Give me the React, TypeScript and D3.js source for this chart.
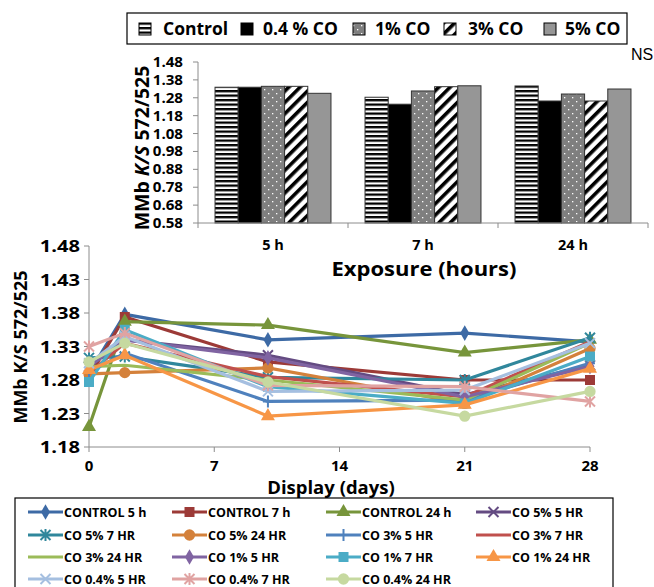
import React from 'react';
import * as d3 from 'd3';

// top chart: bar values per exposure time
const barCategories = ['5 h', '7 h', '24 h'];
const barSeriesNames = ['Control', '0.4 % CO', '1% CO', '3% CO', '5% CO'];
const barControl = [1.339, 1.283, 1.346];
const barCO04 = [1.339, 1.244, 1.262];
const barCO1 = [1.344, 1.318, 1.301];
const barCO3 = [1.344, 1.342, 1.262];
const barCO5 = [1.305, 1.347, 1.329];
const barTicks = [0.58, 0.68, 0.78, 0.88, 0.98, 1.08, 1.18, 1.28, 1.38, 1.48];

// bottom chart: display days
const days = [0, 2, 10, 21, 28];
const dayTicks = [0, 7, 14, 21, 28];
const lineTicks = [1.18, 1.23, 1.28, 1.33, 1.38, 1.43, 1.48];
const lineNames = [
  'CONTROL 5 h', 'CONTROL 7 h', 'CONTROL 24 h', 'CO 5% 5 HR',
  'CO 5% 7 HR', 'CO 5% 24 HR', 'CO 3% 5 HR', 'CO 3% 7 HR',
  'CO 3% 24 HR', 'CO 1% 5 HR', 'CO 1%  7 HR', 'CO 1% 24 HR',
  'CO 0.4% 5 HR', 'CO 0.4% 7 HR', 'CO 0.4% 24 HR',
];
const control5h = [1.29, 1.378, 1.34, 1.35, 1.337];
const control7h = [1.285, 1.374, 1.307, 1.28, 1.28];
const control24h = [1.21, 1.367, 1.362, 1.321, 1.34];
const co5_5h = [1.3, 1.34, 1.317, 1.258, 1.302];
const co5_7h = [1.313, 1.315, 1.284, 1.28, 1.343];
const co5_24h = [1.289, 1.291, 1.298, 1.245, 1.327];
const co3_5h = [1.292, 1.32, 1.248, 1.25, 1.305];
const co3_7h = [1.29, 1.335, 1.285, 1.255, 1.337];
const co3_24h = [1.3, 1.302, 1.28, 1.25, 1.335];
const co1_5h = [1.3, 1.34, 1.313, 1.255, 1.3];
const co1_7h = [1.277, 1.355, 1.27, 1.245, 1.315];
const co1_24h = [1.295, 1.317, 1.226, 1.243, 1.297];
const co04_5h = [1.305, 1.345, 1.263, 1.265, 1.335];
const co04_7h = [1.33, 1.35, 1.272, 1.27, 1.248];
const co04_24h = [1.307, 1.335, 1.277, 1.226, 1.263];

const lineValues = [control5h, control7h, control24h, co5_5h, co5_7h, co5_24h,
  co3_5h, co3_7h, co3_24h, co1_5h, co1_7h, co1_24h, co04_5h, co04_7h, co04_24h];
const lineColors = ['#3d6aa5', '#9c3a37', '#77953b', '#644b82', '#30879c', '#d4813b',
  '#4f81bd', '#c0504d', '#9bbb59', '#8064a2', '#4bacc6', '#f79646',
  '#a5bfe0', '#e0a3a2', '#c6d9a0'];
const lineMarkers = ['diamond', 'square', 'triangle', 'x', 'star', 'circle',
  'plus', 'none', 'none', 'diamond', 'square', 'triangle', 'x', 'star', 'circle'];

const font = '"Open Sans", Lato, sans-serif';
const axisGray = '#8c8c8c';

function Marker({ type, x, y, color }: { type: string; x: number; y: number; color: string }) {
  const t = `translate(${x},${y})`;
  if (type === 'none') return null;
  if (type === 'x') return <path transform={t} d="M-5,-5L5,5M-5,5L5,-5" stroke={color} strokeWidth={2} />;
  if (type === 'star') return <path transform={t} d="M-5,-5L5,5M-5,5L5,-5M0,-6L0,6" stroke={color} strokeWidth={2} />;
  if (type === 'plus') return <path transform={t} d="M-5,0L5,0M0,-6L0,6" stroke={color} strokeWidth={2} />;
  const sym = type === 'diamond' ? d3.symbolDiamond : type === 'square' ? d3.symbolSquare
    : type === 'triangle' ? d3.symbolTriangle : d3.symbolCircle;
  const size = type === 'diamond' ? 70 : type === 'square' ? 100 : type === 'triangle' ? 85 : 100;
  return <path transform={t} d={d3.symbol(sym, size)() || ''} fill={color} />;
}

export default function App() {
  // bar chart scales
  const bx = d3.scaleBand<string>().domain(barCategories).range([198, 648])
    .paddingInner(0.227).paddingOuter(0.1135);
  const bInner = d3.scaleBand<string>().domain(barSeriesNames).range([0, bx.bandwidth()]);
  const by = d3.scaleLinear().domain([0.58, 1.48]).range([223, 62]);
  const barValues = [barControl, barCO04, barCO1, barCO3, barCO5];
  const barFills = ['url(#hstripe)', '#000', 'url(#dots)', 'url(#diag)', '#969696'];

  // line chart scales
  const lx = d3.scaleLinear().domain([0, 28]).range([89, 590]);
  const ly = d3.scaleLinear().domain([1.18, 1.48]).range([447, 246]);
  const line = d3.line<number>().x((_, i) => lx(days[i])).y(d => ly(d));

  const legendXs = [28, 172, 326, 476];
  const legendYs = [512, 535, 557, 579];

  return (
    <svg width={654} height={587} style={{ position: 'absolute', left: 0, top: 0, background: '#fff' }}
      fontFamily={font}>
      <defs>
        <pattern id="hstripe" width={6} height={4.5} patternUnits="userSpaceOnUse">
          <rect width={6} height={4.5} fill="#fff" />
          <rect width={6} height={2.3} fill="#000" />
        </pattern>
        <pattern id="dots" width={8} height={8} patternUnits="userSpaceOnUse">
          <rect width={8} height={8} fill="#7f7f7f" />
          <rect x={1} y={1} width={1.3} height={1.3} fill="#fff" />
          <rect x={5} y={5} width={1.3} height={1.3} fill="#fff" />
        </pattern>
        <pattern id="diag" width={8} height={8} patternUnits="userSpaceOnUse" patternTransform="rotate(45)">
          <rect width={8} height={8} fill="#fff" />
          <rect width={3.6} height={8} fill="#000" />
        </pattern>
      </defs>

      {/* top legend */}
      <rect x={127} y={13} width={500} height={31} fill="#fff" stroke="#000" strokeWidth={1.2} />
      {barSeriesNames.map((name, i) => {
        const xs = [145, 247, 359, 450, 550];
        const tx = [163, 263, 375, 468, 565];
        return (
          <g key={name}>
            <rect x={xs[i] - 6} y={23} width={12} height={12} fill={barFills[i]} stroke="#000" strokeWidth={1} />
            <text x={tx[i]} y={35} fontSize={17.5} fontWeight="bold">{name}</text>
          </g>
        );
      })}
      <text x={631} y={60} fontSize={16} fontFamily="'Liberation Sans', sans-serif">NS</text>

      {/* bar chart axes */}
      <line x1={198} x2={198} y1={62} y2={223} stroke={axisGray} />
      {barTicks.map(t => (
        <g key={t}>
          <line x1={193} x2={198} y1={by(t)} y2={by(t)} stroke={axisGray} />
          <text transform={`translate(183,${by(t) + 5}) scale(1.12,1)`} fontSize={13.5} fontWeight="bold" textAnchor="end">{t.toFixed(2)}</text>
        </g>
      ))}
      <text transform="translate(149,148) rotate(-90)" fontSize={19.5} fontWeight="bold" textAnchor="middle">
        MMb <tspan fontStyle="italic">K/S</tspan> 572/525
      </text>

      {/* bars */}
      {barCategories.map((c, ci) => (
        <g key={c} transform={`translate(${bx(c)},0)`}>
          {barSeriesNames.map((s, si) => (
            <rect key={s} x={bInner(s)} y={by(barValues[si][ci])} width={bInner.bandwidth()}
              height={by(0.58) - by(barValues[si][ci])} fill={barFills[si]} stroke="#333" strokeWidth={1} />
          ))}
        </g>
      ))}
      <line x1={198} x2={648} y1={223} y2={223} stroke={axisGray} />
      {[0, 1, 2, 3].map(i => {
        const x = 198 + i * bx.step();
        return <line key={i} x1={x} x2={x} y1={223} y2={228} stroke={axisGray} />;
      })}
      {barCategories.map(c => (
        <text key={c} x={(bx(c) || 0) + bx.bandwidth() / 2} y={250} fontSize={14.5} fontWeight="bold" textAnchor="middle">{c}</text>
      ))}
      <text transform="translate(424,276) scale(1.1,1)" fontSize={20} fontWeight="bold" textAnchor="middle">Exposure  (hours)</text>

      {/* line chart axes */}
      <line x1={89} x2={89} y1={246} y2={447} stroke={axisGray} />
      {lineTicks.map(t => (
        <g key={t}>
          <line x1={84} x2={89} y1={ly(t)} y2={ly(t)} stroke={axisGray} />
          <text transform={`translate(80,${ly(t) + 6}) scale(1.22,1)`} fontSize={16.5} fontWeight="bold" textAnchor="end">{t.toFixed(2)}</text>
        </g>
      ))}
      <line x1={89} x2={590} y1={447} y2={447} stroke={axisGray} />
      {dayTicks.map(t => (
        <g key={t}>
          <line x1={lx(t)} x2={lx(t)} y1={447} y2={452} stroke={axisGray} />
          <text x={lx(t)} y={471} fontSize={15} fontWeight="bold" textAnchor="middle">{t}</text>
        </g>
      ))}
      <text x={331} y={494} fontSize={18.5} fontWeight="bold" textAnchor="middle">Display (days)</text>
      <text transform="translate(27,347) rotate(-90)" fontSize={18} fontWeight="bold" textAnchor="middle">
        MMb K/S  572/525
      </text>

      {/* lines */}
      {lineValues.map((vals, i) => (
        <g key={lineNames[i]}>
          <path d={line(vals) || ''} fill="none" stroke={lineColors[i]} strokeWidth={3.2} />
          {vals.map((v, j) => (
            <Marker key={j} type={lineMarkers[i]} x={lx(days[j])} y={ly(v)} color={lineColors[i]} />
          ))}
        </g>
      ))}

      {/* bottom legend */}
      <rect x={15} y={498} width={598} height={95} fill="#fff" stroke="#000" strokeWidth={1.2} />
      {lineNames.map((name, i) => {
        const x = legendXs[i % 4];
        const y = legendYs[Math.floor(i / 4)];
        return (
          <g key={name}>
            <line x1={x} x2={x + 35} y1={y} y2={y} stroke={lineColors[i]} strokeWidth={3} />
            <Marker type={lineMarkers[i]} x={x + 17.5} y={y} color={lineColors[i]} />
            <text x={x + 36} y={y + 4.5} fontSize={12.5} fontWeight="bold">{name}</text>
          </g>
        );
      })}
    </svg>
  );
}
